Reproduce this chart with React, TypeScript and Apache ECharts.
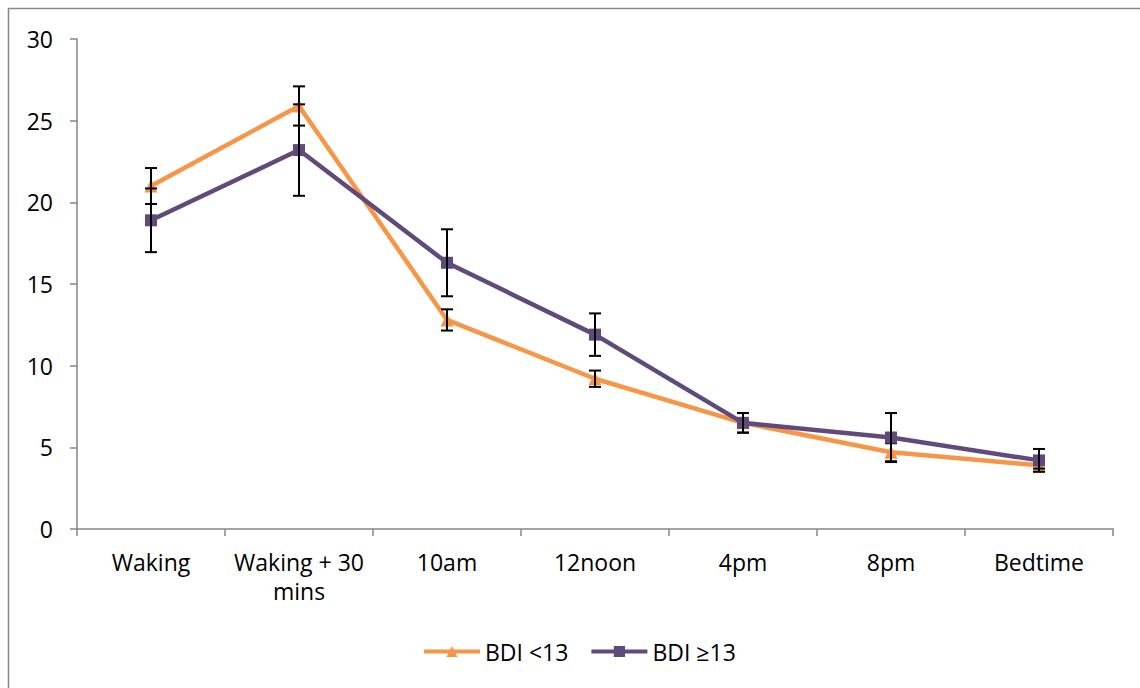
import React, { useEffect, useRef } from "react";
import * as echarts from "echarts";

// Time points of the cortisol profile
const categories = ["Waking", "Waking + 30\nmins", "10am", "12noon", "4pm", "8pm", "Bedtime"];

// BDI < 13 group: means and standard errors
const lowMeans = [21.0, 25.9, 12.8, 9.2, 6.5, 4.7, 3.9];
const lowErrors = [1.1, 1.2, 0.65, 0.5, 0.6, 0.55, 0.2];

// BDI >= 13 group: means and standard errors
const highMeans = [18.9, 23.2, 16.3, 11.9, 6.5, 5.6, 4.2];
const highErrors = [1.95, 2.8, 2.05, 1.3, 0.6, 1.5, 0.7];

const yTicks = { min: 0, max: 30, interval: 5 };

const ORANGE = "#F79646";
const PURPLE = "#604A7B";
const AXIS = "#868686";
const FONT = "Open Sans";
const FONT_SIZE = 23;

function errorData(means: number[], errs: number[]) {
  return means.map((m, i) => [i, m - errs[i], m + errs[i]]);
}

function errorSeries(name: string, means: number[], errs: number[], z: number) {
  return {
    type: "custom",
    name: name + " error",
    z,
    silent: true,
    data: errorData(means, errs),
    renderItem: (params: any, api: any) => {
      const x = api.value(0);
      const lo = api.coord([x, api.value(1)]);
      const hi = api.coord([x, api.value(2)]);
      const half = 6;
      const style = { stroke: "#000", lineWidth: 2 };
      return {
        type: "group",
        children: [
          { type: "line", shape: { x1: lo[0], y1: lo[1], x2: hi[0], y2: hi[1] }, style },
          { type: "line", shape: { x1: lo[0] - half, y1: lo[1], x2: lo[0] + half, y2: lo[1] }, style },
          { type: "line", shape: { x1: hi[0] - half, y1: hi[1], x2: hi[0] + half, y2: hi[1] }, style },
        ],
      };
    },
  };
}

export default function App() {
  const ref = useRef<HTMLDivElement>(null);

  useEffect(() => {
    if (!ref.current) return;
    const chart = echarts.init(ref.current, undefined, { renderer: "svg" });
    chart.setOption({
      animation: false,
      backgroundColor: "#fff",
      textStyle: { fontFamily: FONT },
      graphic: [
        {
          type: "rect",
          silent: true,
          shape: { x: 8.5, y: 8.5, width: 1140, height: 700 },
          style: { fill: "none", stroke: "#898989", lineWidth: 1.5 },
          z: -1,
        },
      ],
      grid: { left: 77, right: 27, top: 39, bottom: 159, containLabel: false },
      legend: {
        bottom: 20,
        left: 417,
        itemWidth: 56,
        itemHeight: 14,
        itemGap: 21,
        data: ["BDI <13", "BDI ≥13"],
        lineStyle: { width: 4 },
        textStyle: { fontFamily: FONT, fontSize: FONT_SIZE, color: "#000" },
      },
      xAxis: {
        type: "category",
        data: categories,
        boundaryGap: true,
        axisLine: { lineStyle: { color: AXIS, width: 1.5 } },
        axisTick: { show: true, alignWithLabel: false, length: 7, lineStyle: { color: AXIS, width: 1.5 } },
        axisLabel: {
          interval: 0,
          margin: 18,
          color: "#000",
          fontFamily: FONT,
          fontSize: FONT_SIZE,
          lineHeight: 29,
          verticalAlign: "top",
        },
        splitLine: { show: false },
      },
      yAxis: {
        type: "value",
        min: yTicks.min,
        max: yTicks.max,
        interval: yTicks.interval,
        axisLine: { show: true, lineStyle: { color: AXIS, width: 1.5 } },
        axisTick: { show: true, length: 7, lineStyle: { color: AXIS, width: 1.5 } },
        axisLabel: { margin: 24, color: "#000", fontFamily: FONT, fontSize: FONT_SIZE },
        splitLine: { show: false },
      },
      series: [
        {
          type: "line",
          name: "BDI <13",
          data: lowMeans,
          z: 2,
          symbol: "triangle",
          symbolSize: 13,
          lineStyle: { color: ORANGE, width: 4.5 },
          itemStyle: { color: ORANGE },
        },
        errorSeries("BDI <13", lowMeans, lowErrors, 3),
        {
          type: "line",
          name: "BDI ≥13",
          data: highMeans,
          z: 4,
          symbol: "rect",
          symbolSize: 12,
          lineStyle: { color: PURPLE, width: 4.5 },
          itemStyle: { color: PURPLE },
        },
        errorSeries("BDI ≥13", highMeans, highErrors, 5),
      ],
    });
    return () => chart.dispose();
  }, []);

  return (
    <div
      ref={ref}
      style={{ position: "absolute", left: 0, top: 0, width: 1140, height: 688 }}
    />
  );
}
